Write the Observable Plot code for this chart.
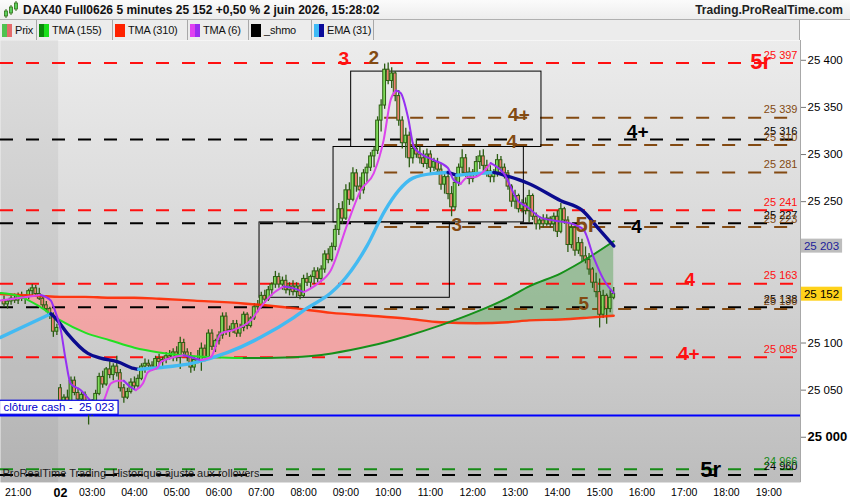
<!DOCTYPE html>
<html><head><meta charset="utf-8">
<script src="https://cdn.jsdelivr.net/npm/d3@7"></script>
<script src="https://cdn.jsdelivr.net/npm/@observablehq/plot@0.6"></script>
<style>
body{margin:0;width:850px;height:500px;overflow:hidden;background:#fff;font-family:"Liberation Sans",Arial,sans-serif;}
#hdr{position:relative;height:20px;box-sizing:border-box;border-bottom:1px solid #b0b0b0;background:linear-gradient(#fbfbfb,#ededed);}
#ttl{position:absolute;left:23px;top:3px;font-size:12px;font-weight:bold;color:#111;}
#site{position:absolute;right:7px;top:3px;font-size:12px;font-weight:bold;color:#222;}
#leg{position:relative;height:20px;box-sizing:border-box;display:flex;background:#ececec;font-size:11px;letter-spacing:-0.2px;color:#111;white-space:nowrap;}
#leg .it{display:flex;align-items:center;box-sizing:border-box;padding-left:2px;border-right:1px solid #a8a8a8;height:20px;}
#leg .sw{display:inline-flex;flex:none;width:10px;height:13px;margin-right:3px;}
#leg .sw i{display:block;width:5px;height:13px;}
#leg .rest{flex:1;border-right:1px solid #a8a8a8;}
#leg .white{width:50px;background:#fff;}
#chart svg{display:block;}
</style></head>
<body>
<div id="hdr">
  <svg width="18" height="19" style="position:absolute;left:3px;top:0">
    <line x1="3" y1="9" x2="3" y2="18" stroke="#2f6e16"/><rect x="1.5" y="11" width="3" height="5" fill="#5ccf5c" stroke="#2f6e16" stroke-width="0.8"/>
    <line x1="8" y1="5" x2="8" y2="15" stroke="#2f6e16"/><rect x="6.5" y="7" width="3" height="6" fill="#5ccf5c" stroke="#2f6e16" stroke-width="0.8"/>
    <line x1="13" y1="1" x2="13" y2="11" stroke="#2f6e16"/><rect x="11.5" y="3" width="3" height="6" fill="#5ccf5c" stroke="#2f6e16" stroke-width="0.8"/>
  </svg>
  <span id="ttl">DAX40 Full0626 5 minutes 25 152 +0,50 % 2 juin 2026, 15:28:02</span>
  <span id="site">Trading.ProRealTime.com</span>
</div>
<div id="leg">
  <div class="it" style="width:37px"><span class="sw"><i style="background:#4fc24f"></i><i style="background:#e46a6a"></i></span>Prix</div>
  <div class="it" style="width:76px"><span class="sw"><i style="background:#0a8a0a"></i><i style="background:#19e019"></i></span>TMA (155)</div>
  <div class="it" style="width:75px"><span class="sw"><i style="background:#ff2200"></i><i style="background:#ff2200"></i></span>TMA (310)</div>
  <div class="it" style="width:61px"><span class="sw"><i style="background:#e040f0"></i><i style="background:#9a2cf0"></i></span>TMA (6)</div>
  <div class="it" style="width:63px"><span class="sw"><i style="background:#000"></i><i style="background:#000"></i></span>_shmo</div>
  <div class="it" style="width:62px"><span class="sw"><i style="background:#3fbaf5"></i><i style="background:#0a0a9a"></i></span>EMA (31)</div>
  <div class="rest"></div>
  <div class="white"></div>
</div>
<div id="chart"></div>
<script>
// ---------- view ----------
const viewStart = -5, viewEnd = 222;          // bar index range shown
const priceMin = 24952, priceMax = 25421;     // price range shown

// ---------- time axis (5-minute bar index) ----------
const timeTickIdx = [0, 12, 21, 33, 45, 57, 69, 81, 93, 105, 117, 129, 141, 153, 165, 177, 189, 201, 213];
const timeTickLabels = ["21:00","02","03:00","04:00","05:00","06:00","07:00","08:00","09:00","10:00","11:00","12:00","13:00","14:00","15:00","16:00","17:00","18:00","19:00"];
const dayBreakIdx = 12;
const priceTicks = [25000, 25050, 25100, 25150, 25200, 25250, 25300, 25350, 25400];

// ---------- candles (first bar index = -4) ----------
const candleFirstIdx = -4;
const candleOpen = [25145,25141,25144,25147,25145,25150,25147,25149,25155,25158,25152,25147,25140,25136,25129,25112,
25052,25036,25042,25038,25060,25047,25040,25045,25030,25026,
25036,25046,25064,25056,25072,25066,25075,25068,25052,25042,
25048,25058,25054,25062,25075,25078,25076,25074,25083,25080,
25082,25086,25084,25090,25084,25100,25090,25086,25074,25082,
25080,25094,25084,25110,25096,25102,25108,25128,25112,25114,
25120,25110,25116,25130,25118,25126,25138,25140,25150,25146,
25156,25162,25170,25162,25166,25156,25160,25154,25160,25150,
25168,25164,25170,25176,25168,25178,25194,25188,25202,25220,
25242,25232,25262,25252,25280,25266,25262,25280,25286,25298,
25304,25336,25352,25390,25378,25386,25362,25336,25312,25320,
25296,25306,25300,25296,25290,25300,25286,25292,25284,25268,
25276,25258,25244,25270,25286,25296,25280,25274,25280,25292,
25298,25288,25282,25276,25280,25294,25286,25280,25266,25250,
25256,25242,25248,25240,25256,25234,25226,25230,25226,25232,
25226,25234,25218,25242,25230,25204,25222,25198,25206,25192,
25188,25178,25164,25154,25130,25150,25136,25148];
const candleHigh = [25150,25146,25150,25152,25153,25154,25151,25157,25162,25161,25158,25150,25144,25138,25132,25120,
25056,25045,25050,25064,25064,25052,25048,25048,25034,25040,
25050,25068,25070,25074,25080,25078,25086,25072,25056,25052,
25062,25064,25066,25078,25083,25082,25080,25086,25088,25085,
25090,25092,25094,25096,25106,25104,25094,25090,25086,25092,
25100,25098,25114,25114,25104,25112,25132,25132,25118,25124,
25124,25120,25133,25132,25128,25142,25145,25154,25156,25160,
25164,25176,25174,25170,25172,25164,25166,25164,25163,25172,
25174,25172,25180,25180,25182,25198,25200,25206,25225,25248,
25250,25268,25270,25286,25284,25276,25284,25290,25302,25308,
25340,25358,25396,25397,25392,25388,25368,25340,25328,25324,
25312,25316,25308,25304,25306,25304,25296,25296,25290,25282,
25280,25266,25276,25290,25305,25300,25286,25284,25298,25304,
25305,25294,25288,25284,25300,25298,25290,25283,25268,25262,
25258,25252,25254,25262,25258,25238,25234,25236,25236,25234,
25238,25240,25248,25244,25234,25226,25224,25212,25210,25202,
25195,25180,25174,25168,25156,25152,25156,25159];
const candleLow = [25138,25136,25140,25142,25141,25144,25141,25146,25150,25149,25145,25136,25132,25125,25106,25108,
25032,25030,25033,25036,25044,25035,25032,25028,25013,25022,
25032,25044,25052,25054,25062,25060,25064,25048,25036,25040,
25046,25050,25052,25060,25068,25072,25070,25072,25076,25074,
25078,25082,25080,25080,25072,25086,25080,25068,25070,25078,
25070,25080,25082,25092,25090,25098,25104,25108,25106,25110,
25106,25106,25112,25114,25116,25124,25132,25136,25142,25144,
25150,25158,25158,25156,25152,25150,25150,25148,25146,25148,
25160,25158,25162,25164,25164,25174,25184,25186,25198,25214,
25226,25230,25246,25250,25260,25252,25258,25270,25282,25286,
25300,25324,25348,25374,25370,25356,25330,25306,25296,25286,
25290,25296,25290,25286,25284,25280,25282,25280,25262,25258,
25252,25234,25240,25266,25280,25276,25268,25270,25276,25284,
25282,25276,25270,25270,25276,25282,25274,25262,25244,25242,
25238,25238,25236,25228,25230,25220,25220,25222,25224,25222,
25218,25212,25216,25226,25196,25200,25192,25194,25186,25184,
25172,25158,25148,25116,25126,25120,25132,25146];
const candleClose = [25141,25144,25147,25145,25150,25147,25149,25155,25158,25152,25147,25140,25136,25129,25112,25116,
25036,25042,25038,25060,25047,25040,25045,25030,25026,25036,
25046,25064,25056,25072,25066,25075,25068,25052,25042,25048,
25058,25054,25062,25075,25078,25076,25074,25083,25080,25082,
25086,25084,25090,25084,25100,25090,25086,25074,25082,25080,
25094,25084,25110,25096,25102,25108,25128,25112,25114,25120,
25110,25116,25130,25118,25126,25138,25140,25150,25146,25156,
25162,25170,25162,25166,25156,25160,25154,25160,25150,25168,
25164,25170,25176,25168,25178,25194,25188,25202,25220,25242,
25232,25262,25252,25280,25266,25262,25280,25286,25298,25304,
25336,25352,25390,25378,25386,25362,25336,25312,25320,25296,
25306,25300,25296,25290,25300,25286,25292,25284,25268,25276,
25258,25244,25270,25286,25296,25280,25274,25280,25292,25298,
25288,25282,25276,25280,25294,25286,25280,25266,25250,25256,
25242,25248,25240,25256,25234,25226,25230,25226,25232,25226,
25234,25218,25242,25230,25204,25222,25198,25206,25192,25188,
25178,25164,25154,25130,25150,25136,25148,25152];

// ---------- moving averages ----------
const maIdx  = [-5, 0, 6, 12, 19, 26, 33, 40, 50, 64, 78, 89, 100, 110, 120, 130, 139, 145, 154, 162, 169];
const tma310 = [25152,25151,25150,25149,25149,25148,25148,25147,25145,25142,25137,25132,25129,25126,25122,25121,25122,25124,25125,25127,25129];
const tma155 = [25153,25150,25139,25124,25111,25103,25095,25090,25086,25084,25085,25089,25097,25107,25119,25133,25148,25160,25174,25191,25208];

const emaIdx = [-5, 9.3, 10.7, 14, 19.8, 23.4, 28.3, 32.8, 34.2, 40.5, 49.8, 59.5, 68.8, 78.2, 82, 88.7, 91.5, 99, 104, 108, 112, 118, 122, 124.5, 127, 135, 138, 145, 154, 160, 165, 169];
const ema31  = [25106,25131,25126,25110,25089,25084,25080,25073,25072,25074,25079,25090,25106,25127,25137,25153,25163,25203,25240,25262,25275,25280,25281,25278,25279,25281,25278,25269,25251,25241,25220,25203];

const tma6Idx = [-5, 6.4, 9.3, 10.1, 12.1, 13.5, 14.9, 17.8, 20, 22.6, 24.3, 26.3, 28.3, 30, 32, 33.4, 35.4, 36.8, 39.6, 40.5, 47, 51.8, 54.7, 57.5, 61.2, 66, 68.8, 72.5, 75.4, 78.2, 81.1, 85, 88.7, 93.5, 97.2, 100.9, 103.7, 105.7, 107.2, 108.6, 110.6, 112.3, 114.2, 117.9, 121.9, 123.6, 125.6, 127.6, 129.3, 134.1, 137.8, 141.8, 144.6, 148.3, 152, 156.8, 160.5, 163.3, 166.2, 169];
const tma6 = [25145,25151,25145,25138,25114,25082,25057,25050,25041,25031,25039,25057,25060,25060,25053,25050,25057,25069,25074,25080,25087,25082,25085,25110,25114,25124,25138,25153,25160,25158,25154,25163,25177,25227,25262,25280,25315,25358,25368,25365,25340,25308,25301,25294,25286,25273,25269,25276,25276,25291,25280,25251,25244,25233,25230,25227,25220,25191,25167,25153];

// ---------- levels ----------
const redLevels = [25397, 25241, 25163, 25085];
const blackLevels = [25316, 25227, 25138, 24960];
const greenLevels = [24966];
const brownLevels = [25339, 25310, 25281, 25223, 25136];
const brownStartIdx = 104;
const cashClose = 25023;

// ---------- zones ----------
const boxStart = [68.5, 89.5, 94.5];
const boxEnd   = [122.5, 143.5, 148.5];
const boxLow   = [25148, 25228, 25308];
const boxHigh  = [25228, 25308, 25388];

// ---------- wave labels ----------
const waveText  = ["3","2","5r","4+","4","4+","3","4","5r","4","5","4+","5r"];
const waveIdx   = [92.4, 100.9, 210.7, 142.1, 140.1, 175.8, 124.5, 175.5, 161.1, 190.6, 160.5, 190.3, 196.5];
const wavePrice = [25401, 25403, 25398, 25342, 25313, 25324, 25225, 25223, 25225, 25167, 25142, 25088, 24965];
const waveKind  = ["red","brown","red","brown","brown","black","brown","black","brown","red","brown","red","black"];

// ---------- right axis value boxes ----------
const valueBoxPrice = [25203, 25152];
const valueBoxKind = ["ema", "last"];

// ================= build =================
const C = {red:"#ff1010", black:"#000", brown:"#834a12", green:"#178a17", blue:"#0000ff"};
const fmt = d => d3.format(",")(d).replace(/,/g, " ");
const candles = candleOpen.map((o, k) => ({i: candleFirstIdx + k, o, h: candleHigh[k], l: candleLow[k], c: candleClose[k]}));
const maRows = maIdx.map((i, k) => ({i, r: tma310[k], g: tma155[k]}));

function runs(idx, vals, up, down) {
  const rows = [];
  let run = 0, prevDir = null;
  for (let k = 0; k < idx.length - 1; k++) {
    const dir = vals[k + 1] >= vals[k];
    if (dir !== prevDir) { run++; rows.push({i: idx[k], v: vals[k], run, col: dir ? up : down}); prevDir = dir; }
    rows.push({i: idx[k + 1], v: vals[k + 1], run, col: dir ? up : down});
  }
  return rows;
}
const greenRuns = runs(maIdx, tma155, "#16901a", "#22e022");
const emaRuns = runs(emaIdx, ema31, "#43baf2", "#0b0b8e");
const tma6Runs = runs(tma6Idx, tma6, "#dc44ec", "#9630f2");

const levels = [
  ...redLevels.map(p => ({p, kind: "red", start: viewStart})),
  ...blackLevels.map(p => ({p, kind: "black", start: viewStart})),
  ...greenLevels.map(p => ({p, kind: "green", start: viewStart})),
  ...brownLevels.map(p => ({p, kind: "brown", start: brownStartIdx}))
];
const boxes = boxStart.map((s, k) => ({x1: s, x2: boxEnd[k], y1: boxLow[k], y2: boxHigh[k]}));
const waves = waveText.map((t, k) => ({t, i: waveIdx[k], p: wavePrice[k], kind: waveKind[k]}));
const tickLabel = new Map(timeTickIdx.map((d, k) => [d, timeTickLabels[k]]));
// axis labels hidden behind the value boxes in the original
const coveredTicks = priceTicks.filter(t => valueBoxPrice.some(v => Math.abs(v - t) < 8));

const plot = Plot.plot({
  width: 850, height: 460,
  marginLeft: 0, marginRight: 50, marginTop: 0, marginBottom: 18,
  x: {domain: [viewStart, viewEnd]},
  y: {domain: [priceMin, priceMax]},
  style: {fontFamily: "'Liberation Sans', Arial, sans-serif", fontSize: "11px", background: "#fff", color: "#000"},
  marks: [
    Plot.frame({fill: "url(#plotbg)", stroke: null}),
    Plot.rect([viewStart], {x1: d => d, x2: dayBreakIdx - 0.5, y1: priceMin, y2: priceMax, fill: "#000", fillOpacity: 0.055}),
    // fills between TMA(310) and TMA(155)
    Plot.areaY(maRows, {x: "i", y1: "g", y2: d => Math.max(d.r, d.g), fill: "#f4a2a2", fillOpacity: 0.92, curve: "monotone-x"}),
    Plot.areaY(maRows, {x: "i", y1: "r", y2: d => Math.max(d.r, d.g), fill: "#8fb88f", fillOpacity: 0.85, curve: "monotone-x"}),
    // levels
    Plot.ruleY(levels, {y: "p", x1: "start", x2: viewEnd, stroke: d => C[d.kind], strokeWidth: 2, strokeDasharray: "13,13"}),
    Plot.ruleY([cashClose], {stroke: C.blue, strokeWidth: 2}),
    // zones
    Plot.rect(boxes, {x1: "x1", x2: "x2", y1: "y1", y2: "y2", fill: "none", stroke: "#000", strokeWidth: 1}),
    // candles
    Plot.ruleX(candles, {x: "i", y1: "l", y2: "h", stroke: "#2c5c12", strokeWidth: 1.3}),
    Plot.rect(candles, {x1: d => d.i - 0.4, x2: d => d.i + 0.4, y1: d => Math.min(d.o, d.c), y2: d => Math.max(d.o, d.c),
      fill: d => d.c >= d.o ? "#7fdc5a" : "#ef8272", stroke: "#2c5c12", strokeWidth: 1}),
    // moving averages
    Plot.line(maRows, {x: "i", y: "r", stroke: "#ff2a00", strokeWidth: 2.4, strokeOpacity: 0.9, curve: "monotone-x"}),
    Plot.line(greenRuns, {x: "i", y: "v", z: "run", stroke: "col", strokeWidth: 2, curve: "monotone-x"}),
    Plot.line(emaRuns, {x: "i", y: "v", z: "run", stroke: "col", strokeWidth: 3.4, curve: "monotone-x"}),
    Plot.line(tma6Runs, {x: "i", y: "v", z: "run", stroke: "col", strokeWidth: 2, curve: "monotone-x"}),
    // level labels
    Plot.text(levels, {y: "p", text: d => fmt(d.p), frameAnchor: "right", dx: -3, dy: -8, textAnchor: "end", fill: d => C[d.kind], fontSize: 11}),
    // wave labels
    Plot.text(waves, {x: "i", y: "p", text: "t", fill: d => C[d.kind], fontSize: d => d.t === "5r" ? 22 : 19, fontWeight: "bold", lineAnchor: "middle"}),
    // notes
    Plot.text([cashClose], {y: d => d, text: d => "clôture cash -  " + fmt(d), frameAnchor: "left", dx: 3, dy: -8, textAnchor: "start", fill: "#0000cc", fontSize: 11.5}),
    Plot.text(["ProRealTime Trading  Historique ajusté aux rollovers"], {text: d => d, frameAnchor: "bottom-left", dx: 2, dy: -6, textAnchor: "start", fill: "#222", fontSize: 11}),
    // axes
    Plot.axisY({anchor: "right", ticks: priceTicks, tickFormat: d => coveredTicks.includes(d) ? "" : fmt(d), tickSize: 5, tickPadding: 2, fontSize: 11.5, label: null, stroke: "#777"}),
    Plot.axisY({anchor: "right", ticks: valueBoxPrice, tickFormat: () => "", tickSize: 5, label: null, stroke: "#333"}),
    Plot.axisX({ticks: timeTickIdx, tickFormat: d => tickLabel.get(d), tickSize: 0, tickPadding: 6, fontSize: 10.5, label: null}),
    Plot.ruleX([viewEnd], {stroke: "#a8a8a8"}),
    Plot.text(valueBoxPrice, {y: d => d, text: fmt, frameAnchor: "right", dx: 21, textAnchor: "middle", fontSize: 11.5,
      fill: (d, k) => valueBoxKind[k] === "ema" ? "#1c1c9a" : "#000"})
  ]
});
document.getElementById("chart").append(plot);
const svg = d3.select(plot);
svg.insert("defs", ":first-child").html(
  '<linearGradient id="plotbg" x1="0" y1="0" x2="0" y2="1"><stop offset="0" stop-color="#ececec"/><stop offset="0.5" stop-color="#d6d6d6"/><stop offset="1" stop-color="#bdbdbd"/></linearGradient>');
function boxBehind(el, s) {
  const b = el.getBBox();
  d3.select(el.parentNode).insert("rect", () => el)
    .attr("transform", el.getAttribute("transform"))
    .attr("x", b.x - s.padL).attr("y", b.y - 1).attr("width", b.width + s.padL + s.padR).attr("height", b.height + 2)
    .attr("fill", s.fill).attr("stroke", s.stroke || "none").attr("stroke-width", s.sw || 0);
}
const boxTexts = valueBoxPrice.map(fmt);
svg.selectAll("text").each(function() {
  const t = this.textContent;
  const k = boxTexts.indexOf(t);
  if (k >= 0) boxBehind(this, {padL: 3, padR: 3, fill: valueBoxKind[k] === "ema" ? "#bdbdbd" : "#ffd21a"});
  if (t.startsWith("clôture")) boxBehind(this, {padL: 4, padR: 4, fill: "#fff", stroke: "#0000e0", sw: 1.2});
  if (t === "25 000") d3.select(this).attr("font-weight", "bold").attr("font-size", 13);
  if (t === "02") d3.select(this).attr("font-weight", "bold").attr("font-size", 12.5);
});
</script>
</body></html>
